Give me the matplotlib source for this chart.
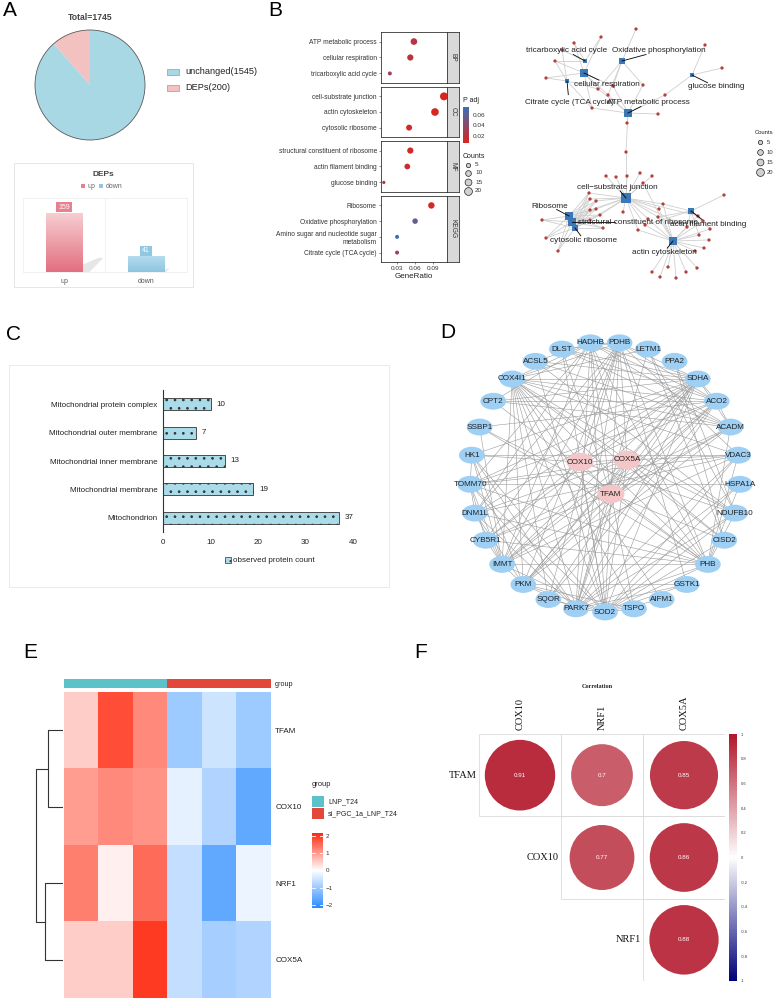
import numpy as np
import matplotlib
matplotlib.use('Agg')
import matplotlib.pyplot as plt
from matplotlib.patches import Rectangle, Ellipse, Circle, Polygon
from matplotlib.colors import LinearSegmentedColormap, ListedColormap, Normalize
from matplotlib.collections import LineCollection
from matplotlib.cm import ScalarMappable

plt.rcParams['font.family'] = ['Liberation Sans', 'DejaVu Sans']
plt.rcParams['hatch.linewidth'] = 0.7

#%% data
# A: pie + DEPs bars
pie_labels = ['DEPs(200)', 'unchanged(1545)']
pie_values = [200, 1545]
dep_dirs = ['up', 'down']
dep_counts = [159, 41]

# B: enrichment dot plot
term_names = ['ATP metabolic process', 'cellular respiration', 'tricarboxylic acid cycle',
              'cell-substrate junction', 'actin cytoskeleton', 'cytosolic ribosome',
              'structural constituent of ribosome', 'actin filament binding', 'glucose binding',
              'Ribosome', 'Oxidative phosphorylation',
              'Amino sugar and nucleotide sugar\nmetabolism', 'Citrate cycle (TCA cycle)']
term_group = ['BP'] * 3 + ['CC'] * 3 + ['MF'] * 3 + ['KEGG'] * 4
gene_ratio = [0.058, 0.052, 0.018, 0.108, 0.093, 0.050, 0.052, 0.047, 0.008, 0.087, 0.060, 0.030, 0.030]
term_count = [14, 12, 4, 21, 19, 11, 12, 10, 2, 13, 9, 4, 4]
term_padj = [0.022, 0.020, 0.032, 0.007, 0.008, 0.010, 0.010, 0.015, 0.012, 0.010, 0.058, 0.075, 0.030]

# B: cnet plot layout (layout units)
cnet_terms = ['tricarboxylic acid cycle', 'Oxidative phosphorylation', 'cellular respiration',
              'Citrate cycle (TCA cycle)', 'glucose binding', 'ATP metabolic process',
              'cell-substrate junction', 'Ribosome', 'structural constituent of ribosome',
              'cytosolic ribosome', 'actin filament binding', 'actin cytoskeleton']
cnet_term_xy = [(75, 61), (112, 61), (74, 73), (57, 81), (182, 75), (118, 113),
                (116, 198), (59, 216), (62, 222), (65, 228), (181, 211), (163, 241)]
cnet_label_xy = [(57, 51), (149, 51), (97, 84), (59, 102), (206, 87), (138, 103),
                 (107, 187), (40, 206), (128, 222), (74, 240), (198, 224), (154, 252)]
cnet_gene_xy = [(126, 29), (91, 37), (64, 43), (52, 50), (45, 61), (36, 78), (195, 45), (212, 68),
                (88, 89), (98, 95), (103, 86), (133, 85), (155, 95), (82, 108), (148, 114), (117, 123),
                (116, 152), (96, 176), (106, 177), (117, 176), (130, 173), (142, 176), (133, 183),
                (79, 193), (80, 199), (86, 201), (86, 209), (80, 210), (90, 215), (93, 228), (32, 220),
                (36, 238), (48, 251), (113, 212), (153, 204), (149, 209), (148, 217), (138, 219),
                (135, 225), (128, 230), (214, 195), (200, 229), (189, 235), (199, 240), (194, 248),
                (185, 251), (187, 268), (176, 272), (166, 278), (158, 267), (150, 277), (142, 272),
                (188, 216), (193, 221), (177, 227), (80, 220)]
ribo_genes = [23, 24, 25, 26, 27, 28, 29, 30, 31, 32, 55]
cnet_links = {
    'tricarboxylic acid cycle': [1, 2, 3, 4],
    'Oxidative phosphorylation': [0, 8, 9, 10, 11],
    'cellular respiration': [1, 2, 4, 5, 8, 9, 10, 13],
    'Citrate cycle (TCA cycle)': [3, 4, 5, 8, 13],
    'glucose binding': [6, 7, 12],
    'ATP metabolic process': [8, 9, 10, 11, 12, 13, 14, 15, 16],
    'cell-substrate junction': [16, 17, 18, 19, 20, 21, 22, 23, 24, 25, 26, 27, 28, 33, 34, 35,
                                36, 37, 38, 39, 52, 54, 55],
    'Ribosome': ribo_genes,
    'structural constituent of ribosome': ribo_genes,
    'cytosolic ribosome': ribo_genes,
    'actin filament binding': [34, 36, 38, 40, 41, 42, 52, 53, 54],
    'actin cytoskeleton': [22, 34, 35, 36, 37, 38, 39, 41, 42, 43, 44, 45, 46, 47, 48, 49, 50,
                           51, 52, 53, 54],
}

# C: subcellular location
loc_names = ['Mitochondrial protein complex', 'Mitochondrial outer membrane',
             'Mitochondrial inner membrane', 'Mitochondrial membrane', 'Mitochondrion']
loc_counts = [10, 7, 13, 19, 37]

# D: PPI network
ppi_ring = ['PDHB', 'LETM1', 'PPA2', 'SDHA', 'ACO2', 'ACADM', 'VDAC3', 'HSPA1A', 'NDUFB10',
            'CISD2', 'PHB', 'GSTK1', 'AIFM1', 'TSPO', 'SOD2', 'PARK7', 'SQOR', 'PKM', 'IMMT',
            'CYB5R1', 'DNM1L', 'TOMM70', 'HK1', 'SSBP1', 'CPT2', 'COX4I1', 'ACSL5', 'DLST', 'HADHB']
ppi_core = ['COX10', 'COX5A', 'TFAM']
ppi_core_xy = [(-0.185, 0.111), (0.163, 0.126), (0.044, -0.126)]
ppi_links = {
    'SDHA': ['COX4I1', 'CPT2', 'ACSL5', 'DLST', 'HADHB', 'PDHB', 'IMMT', 'PKM', 'TOMM70', 'DNM1L',
             'COX5A', 'COX10', 'TFAM', 'PARK7', 'SOD2', 'ACO2', 'ACADM', 'HK1', 'SQOR', 'CYB5R1'],
    'ACO2': ['CPT2', 'COX4I1', 'DLST', 'PDHB', 'HADHB', 'IMMT', 'PKM', 'SSBP1', 'TOMM70', 'TFAM',
             'COX10', 'PARK7', 'SQOR', 'ACADM'],
    'ACADM': ['COX4I1', 'HADHB', 'CPT2', 'DLST', 'PKM', 'IMMT', 'ACSL5', 'TFAM', 'PHB', 'CYB5R1'],
    'VDAC3': ['HK1', 'COX5A', 'TOMM70', 'PHB', 'IMMT', 'PARK7', 'SOD2', 'DNM1L', 'COX4I1', 'PDHB'],
    'COX4I1': ['COX10', 'COX5A', 'PHB', 'PARK7', 'SOD2', 'TSPO', 'PKM', 'IMMT', 'NDUFB10', 'PDHB',
               'HADHB', 'LETM1', 'CISD2', 'SQOR', 'AIFM1'],
    'PHB': ['IMMT', 'TOMM70', 'DNM1L', 'SSBP1', 'COX5A', 'TFAM', 'HSPA1A', 'NDUFB10', 'PDHB',
            'HADHB', 'SOD2', 'PARK7', 'CYB5R1', 'CPT2'],
    'SOD2': ['PARK7', 'TFAM', 'COX5A', 'COX10', 'PKM', 'SQOR', 'DLST', 'HADHB', 'IMMT', 'TOMM70',
             'HK1', 'ACSL5', 'AIFM1', 'GSTK1', 'TSPO', 'NDUFB10', 'CISD2', 'HSPA1A'],
    'PARK7': ['TFAM', 'COX5A', 'TOMM70', 'DNM1L', 'HK1', 'PDHB', 'HADHB', 'LETM1', 'NDUFB10',
              'HSPA1A', 'GSTK1', 'PKM'],
    'TFAM': ['SSBP1', 'COX10', 'COX5A', 'PDHB', 'HADHB', 'DLST', 'CISD2', 'TSPO', 'PKM', 'CYB5R1'],
    'COX10': ['COX5A', 'HK1', 'PDHB', 'IMMT', 'CYB5R1', 'NDUFB10'],
    'COX5A': ['NDUFB10', 'HADHB', 'PDHB', 'IMMT', 'CISD2', 'TOMM70', 'DNM1L', 'PKM'],
    'PDHB': ['DLST', 'HADHB', 'IMMT', 'PKM', 'SQOR', 'DNM1L', 'CYB5R1', 'GSTK1'],
    'HADHB': ['IMMT', 'TOMM70', 'CPT2', 'ACSL5', 'DNM1L'],
    'IMMT': ['DNM1L', 'TOMM70', 'PKM', 'CYB5R1', 'HK1', 'SSBP1'],
    'PKM': ['HK1', 'DNM1L', 'TSPO', 'GSTK1'],
    'TOMM70': ['HSPA1A', 'DNM1L', 'CYB5R1', 'HK1'],
    'CISD2': ['PPA2', 'LETM1'],
    'NDUFB10': ['LETM1', 'PPA2', 'ACSL5'],
}

# E: heatmap (row z-scores)
hm_genes = ['TFAM', 'COX10', 'NRF1', 'COX5A']
hm_groups = ['LNP_T24'] * 3 + ['si_PGC_1a_LNP_T24'] * 3
hm_values = [[0.5, 1.8, 1.2, -1.0, -0.5, -1.0],
             [1.0, 1.2, 1.1, -0.25, -0.8, -1.6],
             [1.3, 0.15, 1.5, -0.6, -1.6, -0.2],
             [0.5, 0.5, 2.0, -0.6, -0.9, -0.8]]
dendro_heights = [15, 18, 27]   # TFAM|COX10, NRF1|COX5A, root

# F: correlation
corr_rows = ['TFAM', 'COX10', 'NRF1']
corr_cols = ['COX10', 'NRF1', 'COX5A']
corr_vals = [[0.91, 0.70, 0.85],
             [np.nan, 0.77, 0.86],
             [np.nan, np.nan, 0.88]]

#%% figure
W, H = 778, 1000
fig = plt.figure(figsize=(W / 100, H / 100), dpi=100)


def px_axes(x0, y0, x1, y1, **kw):
    return fig.add_axes([x0 / W, 1 - y1 / H, (x1 - x0) / W, (y1 - y0) / H], **kw)


#%% A - pie
pink, lblue = '#f3c1c0', '#a8d8e4'
ax = px_axes(35, 30, 145, 140)
ax.pie(pie_values, colors=[pink, lblue], startangle=90, counterclock=True,
       wedgeprops=dict(linewidth=0))
ax.add_patch(Circle((0, 0), 1, fill=False, ec='#5a5a5a', lw=0.6, clip_on=False))
ax.set_xlim(-1, 1)
ax.set_ylim(-1, 1)

#%% A - DEPs bars
ax = px_axes(23, 198, 187, 272)
xb = np.arange(len(dep_dirs))
bars = ax.bar(xb, dep_counts, width=0.44, color='none', edgecolor='none')
grads = [('#e26f80', '#f7cdd0'), ('#8cc6e0', '#b5dcee')]
lab_bg = ['#e8818f', '#8fc8e1']
grad = np.linspace(0, 1, 100).reshape(-1, 1)
for b, (cb, ct), bg in zip(bars, grads, lab_bg):
    x0, w, h = b.get_x(), b.get_width(), b.get_height()
    cm = LinearSegmentedColormap.from_list('g', [cb, ct])
    ax.imshow(grad, cmap=cm, extent=[x0, x0 + w, 0, h], origin='lower', aspect='auto', zorder=2)
    # soft floor shadow to the right of each bar
    k = h / max(dep_counts)
    sh = 0.24 * h
    ax.add_patch(Polygon([(x0 + w, 0), (x0 + w, 0.5 * sh), (x0 + w + 0.2 * k, sh),
                          (x0 + w + 0.26 * k, sh), (x0 + w + 0.09 * k, 0)], closed=True,
                         fc='#e6e6e6', ec='none', zorder=1))
    ax.text(x0 + w / 2, h + 16, str(int(h)), ha='center', va='center', fontsize=5, color='white',
            bbox=dict(boxstyle='square,pad=0.25', fc=bg, ec='none'), zorder=3)
ax.axvline(0.5, color='#f0f0f0', lw=0.6, zorder=0)
ax.set_xlim(-0.5, 1.5)
ax.set_ylim(0, 200)
ax.set_yticks([])
ax.set_xticks(xb)
ax.set_xticklabels(dep_dirs, fontsize=5, color='#555')
ax.tick_params(length=0, pad=4)
for sp in ax.spines.values():
    sp.set_color('#f0f0f0')
    sp.set_linewidth(0.6)

#%% B - dot plot
panel_y = {'BP': (32, 83), 'CC': (87, 137), 'MF': (141, 192), 'KEGG': (196, 262)}
padj_cmap = LinearSegmentedColormap.from_list('padj', ['#d8261f', '#3c6fb6'])
padj_norm = Normalize(0.0067, 0.0752)


def dot_d(c):
    return np.sqrt(4.7 + 2.82 * np.asarray(c, float))


for g in ['BP', 'CC', 'MF', 'KEGG']:
    idx = [i for i, t in enumerate(term_group) if t == g]
    n = len(idx)
    y0, y1 = panel_y[g]
    ax = px_axes(381, y0, 447, y1)
    ys = np.arange(n, 0, -1)
    ax.scatter([gene_ratio[i] for i in idx], ys,
               s=(dot_d([term_count[i] for i in idx]) * 0.72) ** 2,
               c=[term_padj[i] for i in idx], cmap=padj_cmap, norm=padj_norm,
               edgecolors='none', zorder=3)
    ax.set_xlim(0.0033, 0.113)
    ax.set_ylim(0.4, n + 0.6)
    ax.set_yticks(ys)
    ax.set_yticklabels([term_names[i] for i in idx], fontsize=4.8, color='#333')
    ax.set_xticks([0.03, 0.06, 0.09])
    ax.tick_params(length=1.5, width=0.4, pad=1.5, colors='#333')
    if g == 'KEGG':
        ax.set_xticklabels(['0.03', '0.06', '0.09'], fontsize=4.6, color='#333')
        ax.set_xlabel('GeneRatio', fontsize=5.8, labelpad=1.5, color='#222')
    else:
        ax.tick_params(axis='x', bottom=False, labelbottom=False)
    for sp in ax.spines.values():
        sp.set_linewidth(0.6)
        sp.set_color('#333')
    st = px_axes(447, y0, 459, y1)
    st.set_facecolor('#d9d9d9')
    st.set_xticks([])
    st.set_yticks([])
    for sp in st.spines.values():
        sp.set_linewidth(0.6)
        sp.set_color('#333')
    st.text(0.5, 0.5, g, rotation=270, ha='center', va='center', fontsize=4.8,
            transform=st.transAxes, color='#333')

cax = px_axes(463, 107, 469, 143)
cb = fig.colorbar(ScalarMappable(norm=padj_norm, cmap=padj_cmap), cax=cax)
cb.set_ticks([0.02, 0.04, 0.06])
cb.ax.tick_params(labelsize=4.6, length=0, pad=3, labelcolor='#333')
cb.outline.set_visible(False)

#%% B - cnet plot
ax = px_axes(510, 0, 778, 320)
ax.set_xlim(0, 268)
ax.set_ylim(320, 0)
ax.axis('off')
tpos = dict(zip(cnet_terms, cnet_term_xy))
segs = []
for t, genes in cnet_links.items():
    for gi in genes:
        segs.append([tpos[t], cnet_gene_xy[gi]])
ax.add_collection(LineCollection(segs, colors='#cfcfcf', linewidths=0.6, zorder=1))
gx, gy = zip(*cnet_gene_xy)
ax.scatter(gx, gy, s=(3.3 * 0.72) ** 2, color='#b5413d', edgecolors='none', zorder=2)
cnt = dict(zip(term_names, term_count))
tx, ty = zip(*cnet_term_xy)
ax.scatter(tx, ty, marker='s', s=(1.15 * dot_d([cnt[t] for t in cnet_terms]) * 0.72) ** 2,
           color='#3a78b8', edgecolors='none', zorder=3)
for t, (nx_, ny_), (lx, ly) in zip(cnet_terms, cnet_term_xy, cnet_label_xy):
    if np.hypot(lx - nx_, ly - ny_) > 9:
        ax.plot([nx_, nx_ + 0.65 * (lx - nx_)], [ny_, ny_ + 0.65 * (ly - ny_)], color='black',
                lw=0.6, zorder=4)
    ax.text(lx, ly, t.replace('cell-', 'cell\u2212'), ha='center', va='center', fontsize=5.9,
            color='#222', zorder=5)

#%% C - location bars
ax = px_axes(163, 390, 353, 532)
yc = np.arange(len(loc_names))[::-1]
ax.barh(yc, loc_counts, height=0.42, color='#a9dbe8', edgecolor='#333', lw=0.6, hatch='..')
for y, v in zip(yc, loc_counts):
    ax.text(v + 1.2, y, str(v), va='center', fontsize=5.8, color='#222')
ax.set_xlim(0, 40)
ax.set_ylim(-0.5, len(loc_names) - 0.5)
ax.set_yticks(yc)
ax.set_yticklabels(loc_names, fontsize=5.8, color='#222')
ax.set_xticks([0, 10, 20, 30, 40])
ax.tick_params(axis='x', labelsize=5.8, labelcolor='#222', length=0, pad=5)
ax.tick_params(axis='y', length=0, pad=4)
for s in ['top', 'right', 'bottom']:
    ax.spines[s].set_visible(False)
ax.spines['left'].set_color('#333')
ax.spines['left'].set_linewidth(0.8)

#%% D - PPI network
ax = px_axes(440, 325, 778, 630)
ax.set_xlim((440 - 605) / 135, (778 - 605) / 135)
ax.set_ylim((477 - 630) / 135, (477 - 325) / 135)
ax.axis('off')
ang = np.deg2rad(90 - 360 / len(ppi_ring) * (np.arange(len(ppi_ring)) + 0.5))
ppos = {n: (np.cos(a), np.sin(a)) for n, a in zip(ppi_ring, ang)}
ppos.update(dict(zip(ppi_core, ppi_core_xy)))
segs = [[ppos[a], ppos[b]] for a, nb in ppi_links.items() for b in nb]
ax.add_collection(LineCollection(segs, colors='#9a9a9a', linewidths=0.4, zorder=1))
for n in ppi_ring:
    ax.add_patch(Ellipse(ppos[n], 0.19, 0.125, fc='#9ecff5', ec='none', zorder=2))
    ax.text(*ppos[n], n, ha='center', va='center', fontsize=5.9, color='#222', zorder=3)
for n in ppi_core:
    ax.add_patch(Ellipse(ppos[n], 0.2, 0.135, fc='#f4c6c8', ec='none', zorder=2))
    ax.text(*ppos[n], n, ha='center', va='center', fontsize=5.9, color='#222', zorder=3)

#%% E - heatmap
hm_cmap = LinearSegmentedColormap.from_list('hm', ['#2b8cff', '#ffffff', '#ff2a10'])
vlim = 2.17
ax = px_axes(64, 692, 271, 998)
ax.imshow(np.array(hm_values), cmap=hm_cmap, vmin=-vlim, vmax=vlim, aspect='auto',
          interpolation='nearest')
ax.set_xticks([])
ax.yaxis.tick_right()
ax.set_yticks(range(len(hm_genes)))
ax.set_yticklabels(hm_genes, fontsize=5.8, color='#222')
ax.tick_params(length=0, pad=3)
for sp in ax.spines.values():
    sp.set_visible(False)

grp_names = list(dict.fromkeys(hm_groups))
grp_colors = ['#5cc2ca', '#e2473a']
axg = px_axes(64, 679, 271, 688)
axg.imshow([[grp_names.index(g) for g in hm_groups]], cmap=ListedColormap(grp_colors),
           aspect='auto', interpolation='nearest')
axg.set_xticks([])
axg.yaxis.tick_right()
axg.set_yticks([0])
axg.set_yticklabels(['group'], fontsize=5.2, color='#222')
axg.tick_params(length=0, pad=3)
for sp in axg.spines.values():
    sp.set_visible(False)

axd = px_axes(33, 692, 63, 998)
axd.set_xlim(30, 0)
axd.set_ylim(4, 0)
axd.axis('off')
h1, h2, h3 = dendro_heights
dl = dict(color='#333', lw=0.8)
axd.plot([0, h1, h1, 0], [0.5, 0.5, 1.5, 1.5], **dl)
axd.plot([0, h2, h2, 0], [2.5, 2.5, 3.5, 3.5], **dl)
axd.plot([h1, h3, h3, h2], [1.0, 1.0, 3.0, 3.0], **dl)

axc = px_axes(312, 833, 323, 908)
axc.imshow(np.linspace(vlim, -vlim, 200).reshape(-1, 1), cmap=hm_cmap, vmin=-vlim, vmax=vlim,
           aspect='auto', extent=[0, 1, -vlim, vlim])
for tv in [-2, -1, 0, 1, 2]:
    axc.plot([0, 0.25], [tv, tv], color='white', lw=0.6)
    axc.plot([0.75, 1], [tv, tv], color='white', lw=0.6)
axc.set_xticks([])
axc.yaxis.tick_right()
axc.set_yticks([-2, -1, 0, 1, 2])
axc.set_yticklabels(['\u22122', '\u22121', '0', '1', '2'], fontsize=4.5, color='#333')
axc.tick_params(length=0, pad=2)
for sp in axc.spines.values():
    sp.set_visible(False)

#%% F - correlation
corr_cmap = LinearSegmentedColormap.from_list('corr', ['#00007a', '#ffffff', '#b2182b'])
axf = px_axes(479, 734, 725, 981)
axf.set_xlim(0, 3)
axf.set_ylim(3, 0)
axf.axis('off')
for i, rn in enumerate(corr_rows):
    for j, cn in enumerate(corr_cols):
        v = corr_vals[i][j]
        if np.isnan(v):
            continue
        axf.add_patch(Rectangle((j, i), 1, 1, fill=False, ec='#dcdcdc', lw=0.6))
        axf.add_patch(Circle((j + 0.5, i + 0.5), 0.45 * np.sqrt(abs(v)),
                             fc=corr_cmap((v + 1) / 2), ec='none'))
        axf.text(j + 0.5, i + 0.5, f'{v:g}', ha='center', va='center', fontsize=4.5, color='white')
    axf.text(i - 0.03, i + 0.5, rn, ha='right', va='center', fontsize=7.5,
             family='Liberation Serif', color='#111')
for j, cn in enumerate(corr_cols):
    axf.text(j + 0.5, -0.05, cn, rotation=90, ha='center', va='bottom', fontsize=7.5,
             family='Liberation Serif', color='#111', clip_on=False)

axfc = px_axes(729, 734, 737, 981)
axfc.imshow(np.linspace(1, -1, 200).reshape(-1, 1), cmap=corr_cmap, vmin=-1, vmax=1,
            aspect='auto', extent=[0, 1, -1, 1])
axfc.set_xticks([])
axfc.yaxis.tick_right()
fticks = [1, 0.8, 0.6, 0.4, 0.2, 0, -0.2, -0.4, -0.6, -0.8, -1]
axfc.set_yticks(fticks)
axfc.set_yticklabels([f'{t:g}' for t in fticks], fontsize=3, color='#333')
axfc.tick_params(length=0, pad=3)
for sp in axfc.spines.values():
    sp.set_visible(False)

#%% overlay: letters, titles, legends
ov = fig.add_axes([0, 0, 1, 1])
ov.set_xlim(0, W)
ov.set_ylim(H, 0)
ov.axis('off')
ov.patch.set_alpha(0)

for lab, (x, y) in zip('ABCDEF', [(9.5, 11), (275.5, 11), (14, 334), (447.5, 333), (30, 653),
                                   (421, 653)]):
    ov.text(x, y, lab, ha='center', va='center', fontsize=15, color='black')

# A
ov.text(90, 17, 'Total=1745', ha='center', va='center', fontsize=6.2, color='#444', weight='bold')
for (lab, col), y in zip([(pie_labels[1], lblue), (pie_labels[0], pink)], [72, 88]):
    ov.add_patch(Rectangle((167, y - 3), 12, 6, fc=col, ec='#888', lw=0.4))
    ov.text(185, y, lab, va='center', fontsize=6.6, color='#222')
ov.add_patch(Rectangle((14, 163), 179, 124, fill=False, ec='#e2e2e2', lw=0.6))
ov.text(103, 175, 'DEPs', ha='center', va='center', fontsize=6, color='#444', weight='bold')
ov.add_patch(Rectangle((81, 184), 4, 4, fc='#e8818f', ec='none'))
ov.text(88, 186, 'up', va='center', fontsize=5, color='#666')
ov.add_patch(Rectangle((99, 184), 4, 4, fc='#8fc8e1', ec='none'))
ov.text(106, 186, 'down', va='center', fontsize=5, color='#666')

# B
ov.text(463, 101, 'P adj', va='center', fontsize=5, color='#222')
ov.text(463, 156, 'Counts', va='center', fontsize=5, color='#222')
leg_counts = [5, 10, 15, 20]
for y, c in zip([165, 173, 182, 191], leg_counts):
    ov.scatter([468], [y], s=(dot_d(c) * 0.72) ** 2, fc='#d0d0d0', ec='#222', lw=0.5)
    ov.text(475, y, str(c), va='center', fontsize=4.6, color='#333')
ov.text(755, 133, 'Counts', va='center', fontsize=4.2, color='#222')
for y, c in zip([142, 152, 162, 172], leg_counts):
    ov.scatter([760], [y], s=(dot_d(c) * 0.72) ** 2, fc='#d0d0d0', ec='#222', lw=0.5)
    ov.text(767, y, str(c), va='center', fontsize=4.2, color='#333')

# C
ov.add_patch(Rectangle((9, 365), 380, 222, fill=False, ec='#e6e6e6', lw=0.6))
ov.add_patch(Rectangle((225, 557), 6, 6, fc='#a9dbe8', ec='#333', lw=0.5, hatch='...'))
ov.text(233, 560, 'observed protein count', va='center', fontsize=5.8, color='#222')

# E
ov.text(312, 785, 'group', va='center', fontsize=5.4, color='#222')
for (gn, col), y in zip(zip(grp_names, grp_colors), [796, 808]):
    ov.add_patch(Rectangle((312, y), 12, 11, fc=col, ec='none'))
    ov.text(328, y + 5.5, gn, va='center', fontsize=5, color='#222')

# F
ov.text(597, 687, 'Correlation', ha='center', va='center', fontsize=4.5, weight='bold',
        family='Liberation Serif', color='#222')

fig.savefig('out.png', dpi=100)
